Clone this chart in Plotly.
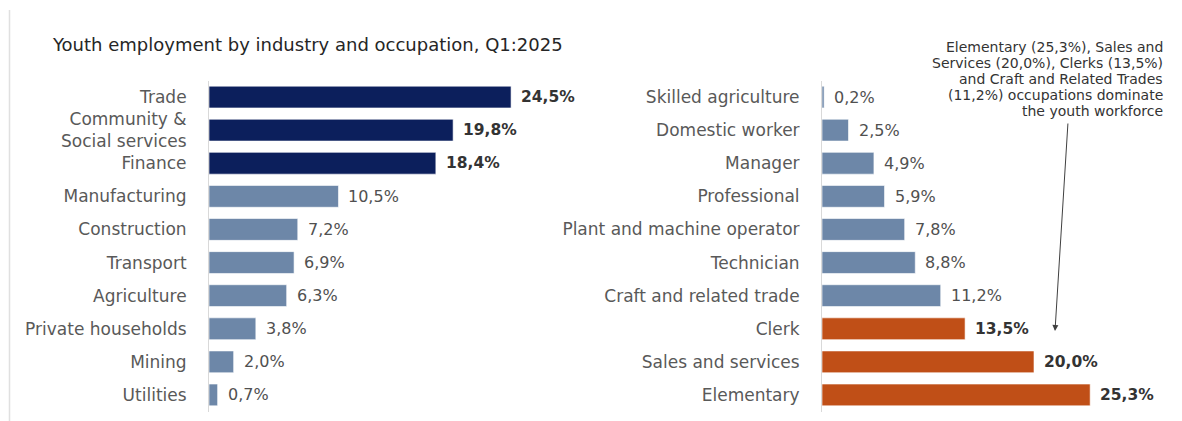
import plotly.graph_objects as go

# Youth employment shares, Q1:2025
industries = ["Trade", "Community &<br>Social services", "Finance", "Manufacturing",
              "Construction", "Transport", "Agriculture", "Private households",
              "Mining", "Utilities"]
industry_share = [24.5, 19.8, 18.4, 10.5, 7.2, 6.9, 6.3, 3.8, 2.0, 0.7]
industry_top = [True, True, True, False, False, False, False, False, False, False]

occupations = ["Skilled agriculture", "Domestic worker", "Manager", "Professional",
               "Plant and machine operator", "Technician", "Craft and related trade",
               "Clerk", "Sales and services", "Elementary"]
occupation_share = [0.2, 2.5, 4.9, 5.9, 7.8, 8.8, 11.2, 13.5, 20.0, 25.3]
occupation_top = [False, False, False, False, False, False, False, True, True, True]

title_text = "Youth employment by industry and occupation, Q1:2025"
note_lines = ["Elementary (25,3%), Sales and",
              "Services (20,0%), Clerks (13,5%)",
              "and Craft and Related Trades",
              "(11,2%) occupations dominate",
              "the youth workforce"]

NAVY = "#0c1f5c"
STEEL = "#6d87a8"
ORANGE = "#c04f17"
FONT = "DejaVu Sans"
W, H = 1182, 421


def fmt(v):
    return f"{v:.1f}".replace(".", ",") + "%"


fig = go.Figure()

fig.add_trace(go.Bar(
    y=industries, x=industry_share, orientation="h",
    marker=dict(color=[NAVY if t else STEEL for t in industry_top],
                line=dict(color="rgba(255,255,255,0.6)", width=1)),
    xaxis="x", yaxis="y", hoverinfo="skip", showlegend=False,
))
fig.add_trace(go.Bar(
    y=occupations, x=occupation_share, orientation="h",
    marker=dict(color=[ORANGE if t else STEEL for t in occupation_top],
                line=dict(color="rgba(255,255,255,0.6)", width=1)),
    xaxis="x2", yaxis="y2", hoverinfo="skip", showlegend=False,
))

annotations = []
for xa, ya, cats, vals, tops in (("x", "y", industries, industry_share, industry_top),
                                 ("x2", "y2", occupations, occupation_share, occupation_top)):
    for cat, v, top in zip(cats, vals, tops):
        annotations.append(dict(
            x=v, y=cat, xref=xa, yref=ya, xanchor="left", yanchor="middle",
            xshift=8, showarrow=False,
            text=f"<b>{fmt(v)}</b>" if top else fmt(v),
            font=dict(family=FONT, size=15.5 if top else 16,
                      color="#333333" if top else "#505050"),
        ))

# chart title
annotations.append(dict(
    x=50 / W, y=1 - 44 / H, xref="paper", yref="paper", xanchor="left",
    yanchor="middle", showarrow=False, text=title_text,
    font=dict(family=FONT, size=18, color="#262626"),
))
# explanatory note, one annotation per line for tight line spacing
for i, line in enumerate(note_lines):
    annotations.append(dict(
        x=1165 / W, y=1 - (47 + 15.9 * i) / H, xref="paper", yref="paper",
        xanchor="right", yanchor="middle", showarrow=False, text=line,
        font=dict(family=FONT, size=14, color="#333333"),
    ))
annotations.append(dict(
    x=1055 / W, y=1 - 331 / H, xref="paper", yref="paper", text="",
    showarrow=True, ax=13, ay=-209, arrowhead=2, arrowsize=1.2, arrowwidth=1,
    arrowcolor="#404040",
))

y_dom = [1 - 411.5 / H, 1 - 80.5 / H]
axis_common = dict(showgrid=False, zeroline=False, showticklabels=False,
                   fixedrange=True)
yaxis_common = dict(
    domain=y_dom, autorange="reversed", showgrid=False, zeroline=False,
    showline=True, linecolor="#d9d9d9", linewidth=1,
    ticks="outside", ticklen=18, tickcolor="rgba(0,0,0,0)",
    tickfont=dict(family=FONT, size=17, color="#595959"),
)

fig.update_layout(
    width=W, height=H,
    margin=dict(l=0, r=0, t=0, b=0),
    paper_bgcolor="white", plot_bgcolor="white",
    bargap=0.34,
    xaxis=dict(domain=[209 / W, 580 / W], range=[0, (580 - 209) / 12.33],
               **axis_common),
    yaxis=dict(anchor="x", **yaxis_common),
    xaxis2=dict(domain=[822 / W, 1175 / W], range=[0, (1175 - 822) / 10.6],
                anchor="y2", **axis_common),
    yaxis2=dict(anchor="x2", **yaxis_common),
    annotations=annotations,
    shapes=[dict(type="line", xref="paper", yref="paper",
                 x0=9.5 / W, x1=9.5 / W, y0=0, y1=1 - 10 / H,
                 line=dict(color="#e0e0e0", width=1.5))],
)

fig.write_html("out.html")
